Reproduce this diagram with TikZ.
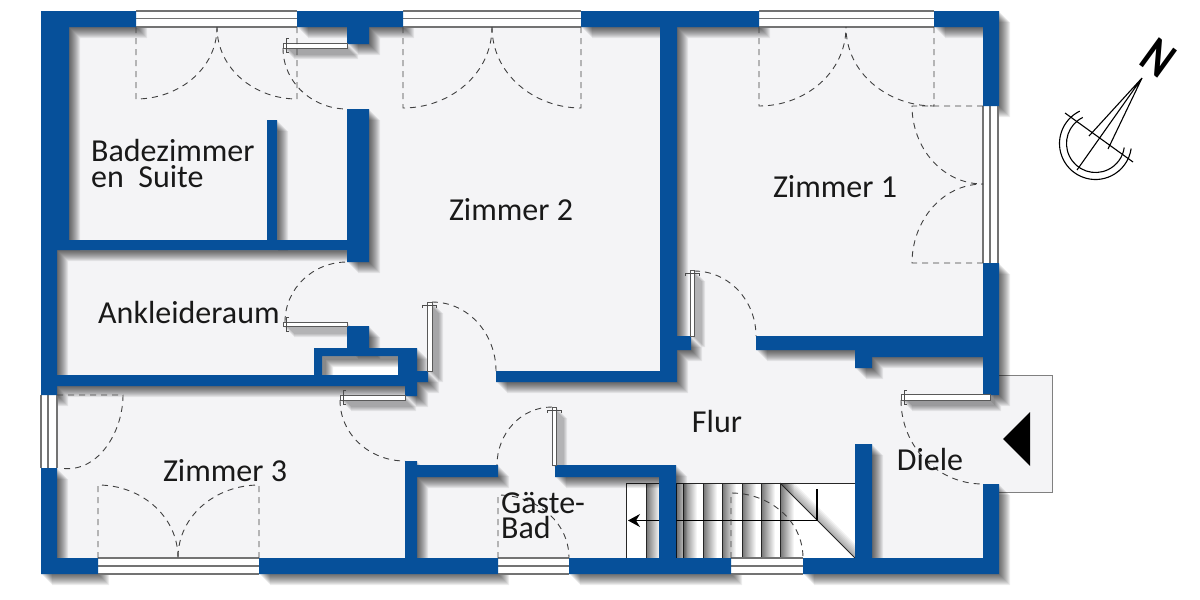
\documentclass[tikz,border=0pt]{standalone}
\usepackage{fontspec}
\setmainfont{Carlito}
\usetikzlibrary{arrows.meta}

\definecolor{wallblue}{HTML}{06509A}
\definecolor{floorgrey}{HTML}{F4F4F6}

\tikzset{
  wall/.style={fill=wallblue},
  swing/.style={draw=black!75,line width=.9pt,dash pattern=on 6pt off 5pt},
  winline/.style={draw=black!55,line width=1.2pt},
  leaf/.style={draw=black!65,fill=white,line width=1pt},
  stairline/.style={draw=black!85,line width=1pt},
  label/.style={font=\fontsize{32}{26}\selectfont,text=black!90,inner sep=0pt},
}

\newcommand{\wallpath}{
  (41,11) rectangle (136,27) (297,11) rectangle (403,27) (581,11) rectangle (759,27)
  (934,11) rectangle (999,27) (347,27) rectangle (369,44)
  (41,11) rectangle (69,240) (41,240) rectangle (57,395) (41,468) rectangle (57,574)
  (41,558) rectangle (98,574) (259,558) rectangle (498,574) (569,558) rectangle (731,574)
  (803,558) rectangle (999,574)
  (267,120) rectangle (277,240) (347,109) rectangle (369,262) (57,240) rectangle (347,250)
  (57,375) rectangle (417,386) (347,326) rectangle (369,348) (314,348) rectangle (417,356)
  (314,348) rectangle (322,375) (398,348) rectangle (417,386) (405,386) rectangle (417,396)
  (417,371) rectangle (428,382)
  (496,371) rectangle (677,382) (660,27) rectangle (677,382) (677,336) rectangle (691,350)
  (405,461) rectangle (417,558) (417,465) rectangle (498,477) (555,465) rectangle (676,477)
  (659,465) rectangle (676,558) (855,444) rectangle (872,558)
  (756,336) rectangle (999,350) (855,350) rectangle (983,357) (855,357) rectangle (872,368)
  (983,11) rectangle (999,106) (983,263) rectangle (999,395) (983,484) rectangle (999,574)
}
\newcommand{\leafpath}{
  (283,43) rectangle (347,48) (283,322) rectangle (347,326) (340,395) rectangle (405,400)
  (901,394) rectangle (990,400)
  (427,302) rectangle (432,371) (552,407) rectangle (556,465) (690,270) rectangle (694,336)
}

\begin{document}
\begin{tikzpicture}[x=1pt,y=-1pt]
  \useasboundingbox (0,0) rectangle (1200,600);

  % floor
  \fill[floorgrey] (41,11) rectangle (999,574);
  \draw[fill=floorgrey,draw=black!50,line width=.8pt] (999,375) -- (1052,375) -- (1052,492) -- (999,492);
  \fill[white] (626,483) rectangle (855,558);
  \fill[white] (322,356) rectangle (398,375);

  % stairs
  \foreach \x in {646,683,703,722,742,761,780} {
    \shade[left color=black!55,right color=white] (\x,483) rectangle (\x+14,558);
  }
  \foreach \s in {2,4,...,14} {
    \fill[black,fill opacity=.05] (780,483) -- (855,558) -- (855,558-\s) -- (780+\s,483) -- cycle;
  }
  \foreach \x in {626,646,676,683,703,722,742,761,780} {
    \draw[stairline] (\x,483) -- (\x,558);
  }
  \draw[stairline] (626,483) -- (855,483) (626,558) -- (855,558);
  \draw[stairline] (780,483) -- (855,558);
  \coordinate (stairtop) at (817,489);
  \coordinate (stairturn) at (817,520.5);
  \coordinate (stairend) at (628,520.5);
  \draw[stairline,black,line width=1.2pt] (stairtop) -- (stairturn);
  \draw[stairline,black,line width=1.2pt,-{Stealth[length=12pt,width=13pt,inset=4pt]}] (stairturn) -- (stairend);

  % shadow
  \foreach \s in {1,...,11} {
    \fill[black,fill opacity=.07,shift={(\s,\s)}] \wallpath \leafpath;
  }

  % windows
  \foreach \xa/\xb in {136/297,403/581,759/934} {
    \fill[white] (\xa,11) rectangle (\xb,27);
    \draw[winline] (\xa,11) -- (\xb,11) (\xa,18.5) -- (\xb,18.5) (\xa,27) -- (\xb,27);
  }
  \foreach \xa/\xb in {98/259,498/569,731/803} {
    \fill[white] (\xa,558) rectangle (\xb,574);
    \draw[winline] (\xa,558) -- (\xb,558) (\xa,566) -- (\xb,566) (\xa,574) -- (\xb,574);
  }
  \fill[white] (41,395) rectangle (57,468);
  \draw[winline] (41,395) -- (41,468) (48,395) -- (48,468) (57,395) -- (57,468);
  \fill[white] (983,106) rectangle (999,263);
  \draw[winline] (983,106) -- (983,263) (990,106) -- (990,263) (998,106) -- (998,263);

  % walls
  \fill[wall] \wallpath;
  \fill[black] (1003,439) -- (1030,412) -- (1030,466) -- cycle;

  % door leaves
  \foreach \xa/\ya/\xb/\yb in {283/43/347/48,283/322/347/326,340/395/405/400,901/394/990/400,427/302/432/371,552/407/556/465,690/270/694/336} {
    \draw[leaf] (\xa,\ya) rectangle (\xb,\yb);
  }
  \foreach \x/\y in {283/45.5,283/324,340/397.5,901/397} {
    \draw[draw=black!70,line width=.7pt] (\x+6,\y-7) -- (\x+3,\y-7) -- (\x+3,\y+7) -- (\x+6,\y+7);
  }
  \foreach \x/\y in {429.5/302,554/407,692/270} {
    \draw[draw=black!70,line width=.7pt] (\x-7,\y+6) -- (\x-7,\y+3) -- (\x+7,\y+3) -- (\x+7,\y+6);
  }

  % door swings
  \foreach \xa/\xb/\xm/\yb in {136/297/217/99,403/581/492/108,759/934/846/106} {
    \draw[swing] (\xa,27) -- (\xa,\yb) to[out=0,in=-90] (\xm,27);
    \draw[swing] (\xb,27) -- (\xb,\yb) to[out=180,in=-90] (\xm,27);
  }
  \draw[swing] (98,558) -- (98,485) to[out=0,in=90] (178,558);
  \draw[swing] (259,558) -- (259,485) to[out=180,in=90] (178,558);
  \draw[swing] (57,395) -- (123,395) to[out=-90,in=-10] (60,468);
  \draw[swing] (983,106) -- (912,106) to[out=-90,in=180] (983,184);
  \draw[swing] (983,263) -- (912,263) to[out=90,in=180] (983,184);
  \draw[swing] (283,48) to[out=-90,in=180] (347,109);
  \draw[swing] (285,322) to[out=90,in=180] (347,262);
  \draw[swing] (432,302) to[out=0,in=90] (496,371);
  \draw[swing] (340,400) to[out=-90,in=180] (405,461);
  \draw[swing] (552,407) to[out=180,in=90] (497,465);
  \draw[swing] (694,271) to[out=0,in=90] (756,336);
  \draw[swing] (901,400) to[out=-90,in=180] (983,484);
  \draw[swing] (498,558) -- (498,495) to[out=0,in=90] (569,558);
  \draw[swing] (731,558) -- (731,493) to[out=0,in=90] (803,558);

  % labels
  \node[label,anchor=base west,align=left] (bad) at (91,187) {Badezimmer\\en\ \ Suite};
  \node[label] (zimmerzwei) at (511,210) {Zimmer 2};
  \node[label] (zimmereins) at (835,187) {Zimmer 1};
  \node[label,anchor=base west] (ankleide) at (98,323) {Ankleideraum};
  \node[label] (zimmerdrei) at (225,471) {Zimmer 3};
  \node[label] (flur) at (717,422) {Flur};
  \node[label] (diele) at (930,459) {Diele};
  \node[label,anchor=base west,align=left,font=\fontsize{32}{25}\selectfont] (gast) at (501,538) {Gäste-\\Bad};

  % compass
  \coordinate (tip) at (1142,78);
  \coordinate (needlea) at (1089,136);
  \coordinate (needleb) at (1077,170);
  \coordinate (needlec) at (1108,149);
  \coordinate (crossa) at (1065,113);
  \coordinate (crossb) at (1133,162);
  \coordinate (hub) at (1095.5,143.5);
  \draw[line width=1.1pt] (tip) -- (needlea) (tip) -- (needleb) (tip) -- (needlec) (crossa) -- (crossb);
  \draw[line width=1.1pt] (hub) ++(116:36pt) arc[start angle=116,end angle=352,radius=36pt];
  \draw[line width=1.1pt] (hub) ++(116:29pt) arc[start angle=116,end angle=352,radius=29pt];
  \node[font=\bfseries\fontsize{52}{52}\selectfont,rotate=-36,xscale=.8,inner sep=0pt] (north) at (1158,58) {N};
\end{tikzpicture}
\end{document}
